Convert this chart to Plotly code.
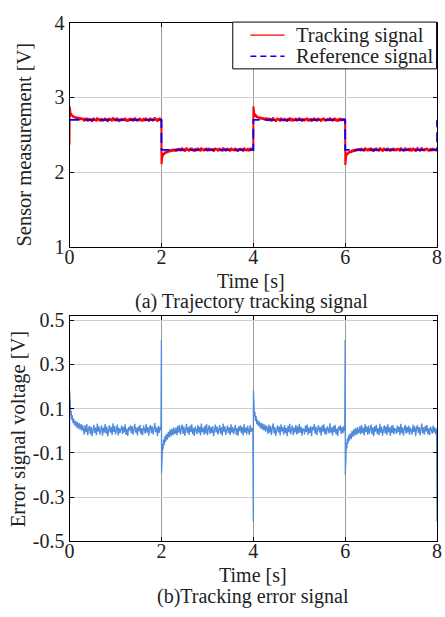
import numpy as np
import plotly.graph_objects as go

# ---------------- data ----------------
ref_t = [0, 2, 2, 4, 4, 6, 6, 8, 8]
ref_v = [2.7, 2.7, 2.3, 2.3, 2.7, 2.7, 2.3, 2.3, 2.7]

seg_start = [0, 2, 4, 6]
seg_level = [2.7, 2.3, 2.7, 2.3]

trans_offsets = [0, 0.003, 0.008, 0.015, 0.025, 0.035, 0.045, 0.06, 0.075, 0.09,
                 0.11, 0.13, 0.15, 0.17, 0.19, 0.21, 0.23, 0.25, 0.27, 0.285]

err_trans_a = [-0.33, 0.18, 0.10, 0.13, 0.07, 0.09, 0.05, 0.07, 0.035, 0.055,
               0.025, 0.045, 0.015, 0.04, 0.01, 0.035, 0.005, 0.03, 0.0, 0.025]
err_trans_b = [0.41, -0.19, -0.10, -0.13, -0.06, -0.085, -0.04, -0.065, -0.025, -0.05,
               -0.015, -0.04, -0.005, -0.03, 0.005, -0.025, 0.01, -0.02, 0.015, -0.012]
err_trans_c = [-0.41, 0.18, 0.095, 0.125, 0.065, 0.085, 0.045, 0.068, 0.03, 0.05,
               0.022, 0.042, 0.012, 0.036, 0.006, 0.032, 0.002, 0.028, -0.004, 0.022]
err_trans_d = [0.41, -0.20, -0.095, -0.125, -0.055, -0.08, -0.035, -0.06, -0.02, -0.045,
               -0.012, -0.038, 0.0, -0.028, 0.008, -0.022, 0.012, -0.018, 0.017, -0.01]

err_steady_a = [0.012, -0.018, 0.025, -0.006, 0.03, -0.02, 0.008, 0.022, -0.015, 0.018,
                -0.024, 0.01, 0.027, -0.01, 0.015, -0.02, 0.032, -0.004, 0.02, -0.017,
                0.006, 0.024, -0.022, 0.014, -0.008, 0.03, -0.013, 0.019, -0.025, 0.011,
                0.026, -0.009, 0.017, -0.019, 0.034, -0.005, 0.021, -0.016, 0.009, 0.028,
                -0.021, 0.013, -0.011, 0.004, 0.023, -0.014, 0.018, -0.007, 0.029, -0.019,
                0.01, -0.023, 0.016, 0.002, 0.025, -0.012, 0.021, -0.018, 0.007, 0.031,
                -0.009, 0.014, -0.021, 0.019, -0.003, 0.027, -0.016, 0.011, -0.02, 0.024,
                0.005, -0.013, 0.03, -0.008, 0.017, -0.022, 0.013, 0.026, -0.011, 0.02,
                -0.017, 0.009, 0.035, -0.006, 0.015, -0.024, 0.022, -0.01, 0.018, 0.003]
err_steady_b = [-0.012, 0.015, -0.02, 0.022, -0.008, 0.026, -0.017, 0.01, 0.028, -0.014,
                0.019, -0.022, 0.006, 0.031, -0.01, 0.016, -0.019, 0.024, -0.005, 0.029,
                -0.016, 0.012, -0.023, 0.02, 0.004, -0.015, 0.027, -0.009, 0.018, -0.021,
                0.033, -0.006, 0.014, -0.018, 0.023, -0.012, 0.03, -0.02, 0.008, 0.025,
                -0.014, 0.017, -0.01, 0.021, -0.024, 0.013, 0.028, -0.007, 0.019, -0.017,
                0.009, 0.026, -0.013, 0.016, -0.022, 0.032, -0.004, 0.02, -0.019, 0.011,
                0.024, -0.011, 0.015, -0.02, 0.029, -0.008, 0.018, -0.015, 0.006, 0.027,
                -0.018, 0.012, -0.023, 0.021, -0.002, 0.025, -0.012, 0.017, -0.021, 0.03,
                -0.009, 0.014, -0.016, 0.022, 0.001, -0.019, 0.026, -0.006, 0.013, 0.004]
err_steady_c = [0.015, -0.014, 0.028, -0.009, 0.021, -0.019, 0.012, 0.033, -0.012, 0.017,
                -0.023, 0.009, 0.025, -0.007, 0.019, -0.021, 0.029, -0.003, 0.016, -0.018,
                0.026, -0.011, 0.013, -0.024, 0.022, -0.006, 0.031, -0.015, 0.01, 0.024,
                -0.02, 0.015, -0.008, 0.027, -0.017, 0.02, -0.012, 0.032, -0.009, 0.018,
                -0.022, 0.011, 0.006, -0.016, 0.023, -0.005, 0.028, -0.019, 0.014, -0.01,
                0.021, -0.024, 0.017, 0.003, 0.03, -0.013, 0.019, -0.02, 0.009, 0.026,
                -0.008, 0.016, -0.022, 0.024, -0.004, 0.029, -0.015, 0.012, -0.018, 0.02,
                0.007, -0.012, 0.034, -0.009, 0.015, -0.021, 0.022, -0.006, 0.027, -0.016,
                0.01, -0.023, 0.019, 0.002, 0.025, -0.014, 0.017, -0.011, 0.021, -0.002]
err_steady_d = [-0.008, 0.02, -0.016, 0.026, -0.011, 0.014, -0.021, 0.03, -0.006, 0.019,
                -0.018, 0.023, -0.013, 0.009, 0.028, -0.017, 0.016, -0.024, 0.021, -0.004,
                0.027, -0.015, 0.011, -0.02, 0.032, -0.009, 0.018, -0.022, 0.013, 0.025,
                -0.012, 0.02, -0.019, 0.029, -0.007, 0.015, -0.023, 0.022, -0.01, 0.026,
                -0.016, 0.012, 0.004, -0.014, 0.024, -0.006, 0.019, -0.02, 0.031, -0.011,
                0.016, -0.022, 0.01, 0.027, -0.013, 0.018, -0.008, 0.023, -0.019, 0.014,
                0.003, -0.017, 0.028, -0.005, 0.02, -0.024, 0.013, 0.025, -0.01, 0.017,
                -0.021, 0.008, 0.033, -0.012, 0.015, -0.018, 0.022, -0.003, 0.026, -0.015,
                0.011, -0.02, 0.019, 0.006, -0.013, 0.024, -0.009, 0.016, -0.017, 0.01]

err_final_t = 8.0
err_final_v = -0.41

x_ticks = [0, 2, 4, 6, 8]
y1_ticks = [1, 2, 3, 4]
y2_ticks = [0.5, 0.3, 0.1, -0.1, -0.3, -0.5]
y2_ticklabels = ["0.5", "0.3", "0.1", "-0.1", "-0.3", "-0.5"]

# ---------------- build series ----------------
trans_sets = [err_trans_a, err_trans_b, err_trans_c, err_trans_d]
steady_sets = [err_steady_a, err_steady_b, err_steady_c, err_steady_d]

t_all, e_all, trk_all = [], [], []
for s0, lvl, tr, st in zip(seg_start, seg_level, trans_sets, steady_sets):
    offs = list(trans_offsets) + list(np.linspace(0.30, 1.99, len(st)))
    vals = list(tr) + list(st)
    for o, v in zip(offs, vals):
        t_all.append(s0 + o)
        e_all.append(v)
        trk_all.append(lvl + v)
t_all.append(err_final_t)
e_all.append(err_final_v)
trk_all.append(2.7 + err_final_v)

FONT = "Liberation Serif, Times New Roman, serif"
TXT = "#222222"
DASH = "10px,5px"

fig = go.Figure()
fig.add_trace(go.Scatter(x=t_all, y=trk_all, mode="lines", name="Tracking signal",
                         line=dict(color="#ff0000", width=2.0), xaxis="x", yaxis="y",
                         showlegend=False))
fig.add_trace(go.Scatter(x=ref_t, y=ref_v, mode="lines", name="Reference signal",
                         line=dict(color="#0000ff", width=1.8, dash=DASH), xaxis="x", yaxis="y",
                         showlegend=False))
fig.add_trace(go.Scatter(x=t_all, y=e_all, mode="lines", showlegend=False,
                         line=dict(color="#4f8bd8", width=1.3), xaxis="x2", yaxis="y2"))

W, H = 445, 617
xd = [66 / W, 442 / W]
y1d = [1 - 245 / H, 1 - 12 / H]
y2d = [1 - 550 / H, 1 - 316 / H]

axis_common = dict(showline=True, linecolor="black", linewidth=1, mirror="ticks",
                   ticks="inside", ticklen=4, tickcolor="black", zeroline=False,
                   ticklabeloverflow="allow",
                   tickfont=dict(family=FONT, size=20, color=TXT))

fig.update_layout(
    width=W, height=H, margin=dict(l=0, r=0, t=0, b=0),
    paper_bgcolor="white", plot_bgcolor="white",
    showlegend=False,
    xaxis=dict(domain=xd, anchor="y", range=[0, 8], tickvals=x_ticks, ticklabelstandoff=-8,
               showgrid=True, gridcolor="#9a9a9a", gridwidth=1, **axis_common),
    yaxis=dict(domain=y1d, anchor="x", range=[1, 4], tickvals=y1_ticks,
               showgrid=True, gridcolor="#cfcfcf", gridwidth=1, **axis_common),
    xaxis2=dict(domain=xd, anchor="y2", range=[0, 8], tickvals=x_ticks, ticklabelstandoff=-8,
                showgrid=True, gridcolor="#9a9a9a", gridwidth=1, **axis_common),
    yaxis2=dict(domain=y2d, anchor="x2", range=[-0.5, 0.52],
                tickvals=y2_ticks, ticktext=y2_ticklabels,
                showgrid=True, gridcolor="#cfcfcf", gridwidth=1, **axis_common),
)

def px(x):
    return x / W

def py(y):
    return 1 - y / H

def ann(text, x, y, angle=0, size=20, xanchor="center"):
    fig.add_annotation(text=text, x=px(x), y=py(y), xref="paper", yref="paper",
                       showarrow=False, textangle=angle, xanchor=xanchor, yanchor="middle",
                       font=dict(family=FONT, size=size, color=TXT))

ann("Time [s]", 252, 280)
ann("(a) Trajectory tracking signal", 252, 301)
ann("Sensor measurement [V]", 19, 139, angle=-90, size=20.5)
ann("Time [s]", 254, 585)
ann("(b)Tracking error signal", 254, 607)
ann("Error signal voltage [V]", 14, 434, angle=-90, size=20.5)

# manual legend
fig.add_shape(type="rect", xref="paper", yref="paper", x0=px(233), x1=px(441.5),
              y0=py(60), y1=py(11.5), line=dict(color="black", width=1), fillcolor="white",
              layer="above")
fig.add_shape(type="line", xref="paper", yref="paper", x0=px(251), x1=px(286),
              y0=py(25), y1=py(25), line=dict(color="#ff0000", width=1.2), layer="above")
fig.add_shape(type="line", xref="paper", yref="paper", x0=px(251), x1=px(286),
              y0=py(47), y1=py(47), line=dict(color="#0000ff", width=1.6, dash="6px,4px"),
              layer="above")
ann("Tracking signal", 296, 25, xanchor="left", size=20.5)
ann("Reference signal", 296, 47, xanchor="left", size=20.5)

fig.write_html("out.html")
